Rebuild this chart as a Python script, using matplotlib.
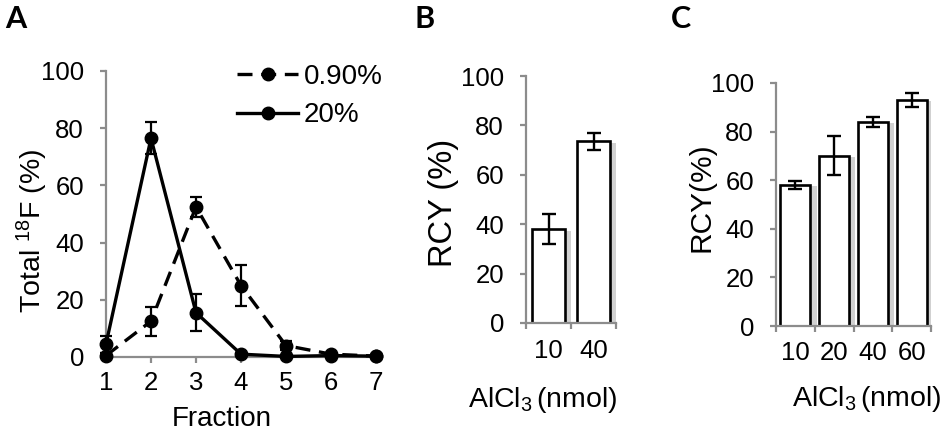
import matplotlib
matplotlib.use("Agg")
import matplotlib.pyplot as plt
import matplotlib.patheffects as pe
from matplotlib.lines import Line2D
import numpy as np

plt.rcParams['font.family'] = ['Liberation Sans', 'DejaVu Sans']
plt.rcParams['mathtext.fontset'] = 'custom'
plt.rcParams['mathtext.rm'] = 'Liberation Sans'
plt.rcParams['mathtext.it'] = 'Liberation Sans:italic'
plt.rcParams['mathtext.bf'] = 'Liberation Sans:bold'
plt.rcParams['mathtext.default'] = 'regular'

# ---- data ----
fractions = [1, 2, 3, 4, 5, 6, 7]
low_vals = [0.5, 12.5, 52.5, 25, 4, 1, 0.3]      # 0.90%
low_err = [1, 5, 3.5, 7, 1.5, 0.5, 0.3]
high_vals = [4.5, 76.5, 15.5, 1, 0.2, 0.5, 0.3]  # 20%
high_err = [3, 5.5, 6.5, 0.5, 0.3, 0.3, 0.2]
series_labels = ['0.90%', '20%']

b_cats = ['10', '40']
b_vals = [38, 73.5]
b_err = [6, 3.3]

c_cats = ['10', '20', '40', '60']
c_vals = [58, 70, 84, 93]
c_err = [1.8, 8, 2, 3]

yticks = [0, 20, 40, 60, 80, 100]

W, H = 947, 432
fig = plt.figure(figsize=(W / 100, H / 100), dpi=100)

def px_axes(l, r, t, b):
    return fig.add_axes([l / W, 1 - b / H, (r - l) / W, (b - t) / H])

def fx(x):
    return x / W

def fy(y):
    return 1 - y / H

FS = 18.5
GRAY = '#8c8c8c'
LW = 2.4
MS = 9

def style(ax):
    for s in ['top', 'right']:
        ax.spines[s].set_visible(False)
    for s in ['left', 'bottom']:
        ax.spines[s].set_color(GRAY)
        ax.spines[s].set_linewidth(1.6)
    ax.tick_params(axis='both', which='major', color=GRAY, width=1.6, length=4.3,
                   labelsize=FS, direction='out')
    ax.tick_params(axis='y', pad=11.5)
    ax.set_ylim(0, 100)
    ax.set_yticks(yticks)

def place_ylabel(ax, text, x, y, size):
    ax.set_ylabel(text, fontsize=size, va='center', ha='center')
    ax.yaxis.set_label_coords(fx(x), fy(y), transform=fig.transFigure)

def place_xlabel(ax, text, x, y, size):
    ax.set_xlabel(text, fontsize=size, va='center', ha='center')
    ax.xaxis.set_label_coords(fx(x), fy(y), transform=fig.transFigure)

# ---- Panel A ----
axA = px_axes(106, 376, 71, 357)
style(axA)
axA.set_xlim(1, 7)
axA.set_xticks(fractions)
axA.tick_params(axis='x', pad=5.8)
DASH = (4.5, 2.6)
axA.errorbar(fractions, low_vals, yerr=low_err, color='black', lw=LW,
             dashes=DASH, marker='o', ms=MS, capsize=4.5, elinewidth=1.6,
             capthick=1.6, clip_on=False, zorder=3)
axA.errorbar(fractions, high_vals, yerr=high_err, color='black', lw=LW,
             marker='o', ms=MS, capsize=4.5, elinewidth=1.6, capthick=1.6,
             clip_on=False, zorder=3)
handles = [Line2D([], [], color='black', lw=LW, dashes=DASH, marker='o', ms=MS),
           Line2D([], [], color='black', lw=LW, marker='o', ms=MS)]
axA.legend(handles, series_labels, loc='upper left',
           bbox_to_anchor=(fx(237), fy(64)), bbox_transform=fig.transFigure,
           frameon=False, fontsize=20, handlelength=2.2, handletextpad=0.2,
           labelspacing=0.45, borderpad=0, borderaxespad=0)
place_xlabel(axA, 'Fraction', 222, 419, 20)
place_ylabel(axA, 'Total $^{18}$F (%)', 32, 231, 20.5)

shadow = [pe.SimplePatchShadow(offset=(4.5, -1.0), shadow_rgbFace='0.8', alpha=0.9),
          pe.Normal()]

def bar_panel(ax, cats, vals, errs, width, pad):
    x = np.arange(len(cats))
    bars = ax.bar(x, vals, width=width, color='white', edgecolor='black',
                  linewidth=1.9, zorder=2)
    for b in bars:
        b.set_path_effects(shadow)
    ax.errorbar(x, vals, yerr=errs, fmt='none', ecolor='black', elinewidth=1.7,
                capsize=5, capthick=1.7, zorder=3)
    ax.set_xlim(-0.5, len(cats) - 0.5)
    ax.set_xticks(np.arange(len(cats) + 1) - 0.5)
    ax.set_xticklabels([])
    ax.set_xticks(x, minor=True)
    ax.set_xticklabels(cats, minor=True)
    ax.tick_params(axis='x', which='minor', length=0, labelsize=FS, pad=pad)

XLAB = 'AlCl$_3$$\\,$(nmol)'

# ---- Panel B ----
axB = px_axes(526, 616, 76, 323)
style(axB)
bar_panel(axB, b_cats, b_vals, b_err, 0.72, 11.5)
place_ylabel(axB, 'RCY (%)', 443, 203, 23.5)
place_xlabel(axB, XLAB, 543, 400, 20.5)

# ---- Panel C ----
axC = px_axes(776, 931, 83, 326)
style(axC)
bar_panel(axC, c_cats, c_vals, c_err, 0.77, 11)
place_ylabel(axC, 'RCY(%)', 701, 197, 21.5)
place_xlabel(axC, XLAB, 867, 399, 20.5)

# panel letters
for lbl, x in [('A', 5), ('B', 414), ('C', 671)]:
    fig.text(fx(x), fy(28), lbl, fontsize=22, fontweight='bold',
             family=['Lato', 'DejaVu Sans'], ha='left', va='baseline')

fig.savefig('out.png', dpi=100)
